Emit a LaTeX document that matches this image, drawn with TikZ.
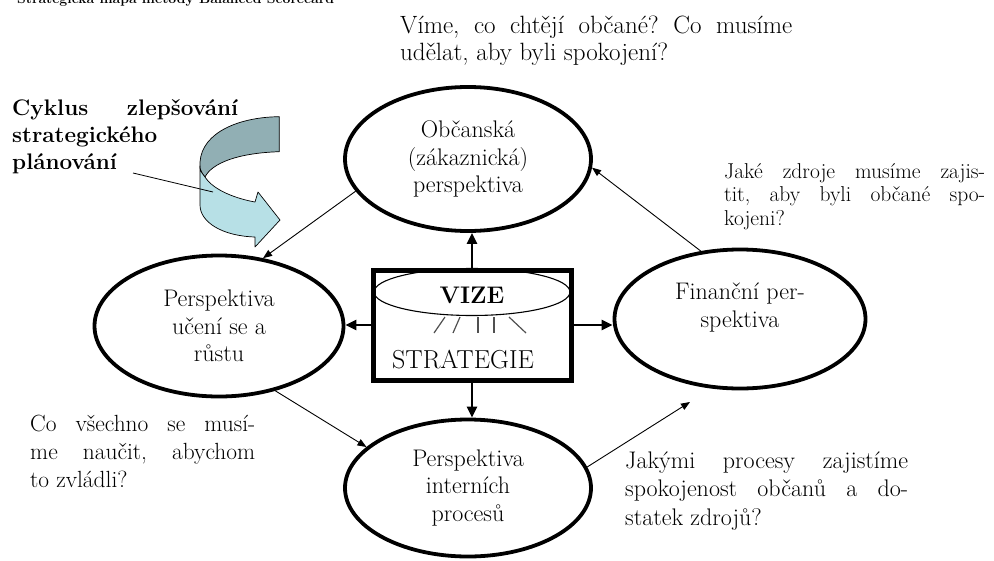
\documentclass[tikz,border=0pt]{standalone}
\usepackage{fontspec}
\usetikzlibrary{arrows.meta,shapes.geometric}
\newcommand\jline[2]{\makebox[#1][s]{#2}}
\definecolor{backband}{HTML}{91AFB4}
\definecolor{frontband}{HTML}{B7E0E6}
\definecolor{raygray}{HTML}{505050}
\frenchspacing
\begin{document}
\begin{tikzpicture}[x=1pt,y=-1pt,
  persp/.style={ellipse, draw, line width=3.8pt, inner sep=0pt, align=center,
    font=\fontsize{24}{27.5}\selectfont},
  thickarrow/.style={line width=2.5pt, -{Triangle[length=11pt,width=10pt]}},
  thinarrow/.style={line width=0.9pt, -{Triangle[length=9pt,width=7pt]}},
  note/.style={anchor=north west, inner sep=0pt, align=left},
  band/.style={draw=black, line width=0.7pt, line join=round},
]
\useasboundingbox (0,0) rectangle (994,560);

% heading, cut by the top edge as in the source
\begin{scope}
\clip (0,0) rectangle (994,560);
\node[anchor=base west, inner sep=0pt, font=\bfseries\fontsize{14}{17}\selectfont] (head) at (17,3.5) {Strategická mapa metody Balanced Scorecard};
\end{scope}

% perspective ellipses
\node[persp, minimum width=246pt, minimum height=144pt] (O) at (468,159) {Občanská\\(zákaznická)\\perspektiva};
\node[persp, minimum width=249pt, minimum height=141pt] (L) at (219,326) {Perspektiva\\učení se a\\růstu};
\node[persp, minimum width=251pt, minimum height=139pt] (F) at (740,319) {Finanční per-\\spektiva\\\mbox{}};
\node[persp, minimum width=246pt, minimum height=137pt] (P) at (468,488) {Perspektiva\\interních\\procesů};

% vision / strategy box
\node[draw, line width=5pt, minimum width=198pt, minimum height=110pt, inner sep=0pt] (B) at (472,325) {};
\node[ellipse, draw, line width=1.1pt, minimum width=196pt, minimum height=47pt, inner sep=0pt,
  text height=22pt, text depth=0pt, font=\bfseries\fontsize{24}{27}\selectfont] (V) at (472,292) {VIZE};
\node[inner sep=0pt, font=\fontsize{26}{28}\selectfont] (S) at (463,360) {STRATEGIE};
\begin{scope}[raygray, line width=1.2pt]
\draw (445,317) -- (434,333);
\draw (460,317) -- (453,333);
\draw (478,317) -- (478,333);
\draw (494,317) -- (494,333);
\draw (509,317) -- (526,333);
\end{scope}

% thick arrows from the box
\draw[thickarrow] (B.north) -- (B.north |- O.south);
\draw[thickarrow] (B.west) -- (B.west -| L.east);
\draw[thickarrow] (B.east) -- (B.east -| F.west);
\draw[thickarrow] (B.south) -- (B.south |- P.north);

% thin cycle arrows
\coordinate (fin) at (690,402);
\draw[thinarrow] (O.196) -- (L.57);
\draw[thinarrow] (F.120) -- (O.356);
\draw[thinarrow] (L.311) -- (P.158);
\draw[thinarrow] (P.10) -- (fin);

% curved improvement arrow
\path[band, fill=backband] (279.3,116.7) .. controls (240,117) and (202,132) .. (200,162) -- (200,168)
  .. controls (201,172) and (203,175) .. (205,177)
  .. controls (212,163) and (238,153) .. (279.3,151.7) -- cycle;
\path[band, fill=frontband] (200,166) -- (200,205) .. controls (200,222) and (222,236) .. (255,237)
  -- (255,247) -- (280,220) -- (258,192) -- (255,202)
  .. controls (238,199) and (214,191) .. (205,177)
  .. controls (203,175) and (201,172) .. (200,168) -- cycle;

% heading text and its pointer
\node[note, font=\bfseries\fontsize{22.5}{27}\selectfont] (cyk) at (12,99.4) {\jline{226pt}{Cyklus zlepšování}\\strategického\\plánování};
\coordinate (calla) at (133,173);
\coordinate (callb) at (213,192);
\draw[line width=0.8pt] (calla) -- (callb);

% question notes
\node[note, font=\fontsize{25}{27}\selectfont] (n1) at (400,15.6) {\jline{392pt}{Víme, co chtějí občané? Co musíme}\\udělat, aby byli spokojení?};
\node[note, font=\fontsize{21.5}{23.5}\selectfont] (n2) at (724,163) {\jline{261pt}{Jaké zdroje musíme zajis-}\\\jline{261pt}{tit, aby byli občané spo-}\\kojeni?};
\node[note, font=\fontsize{23.4}{28}\selectfont] (n3) at (30,414.8) {\jline{225pt}{Co všechno se musí-}\\\jline{225pt}{me naučit, abychom}\\to zvládli?};
\node[note, font=\fontsize{24}{28.5}\selectfont] (n4) at (625,451.3) {\jline{283pt}{Jakými procesy zajistíme}\\\jline{283pt}{spokojenost občanů a do-}\\statek zdrojů?};
\end{tikzpicture}
\end{document}
